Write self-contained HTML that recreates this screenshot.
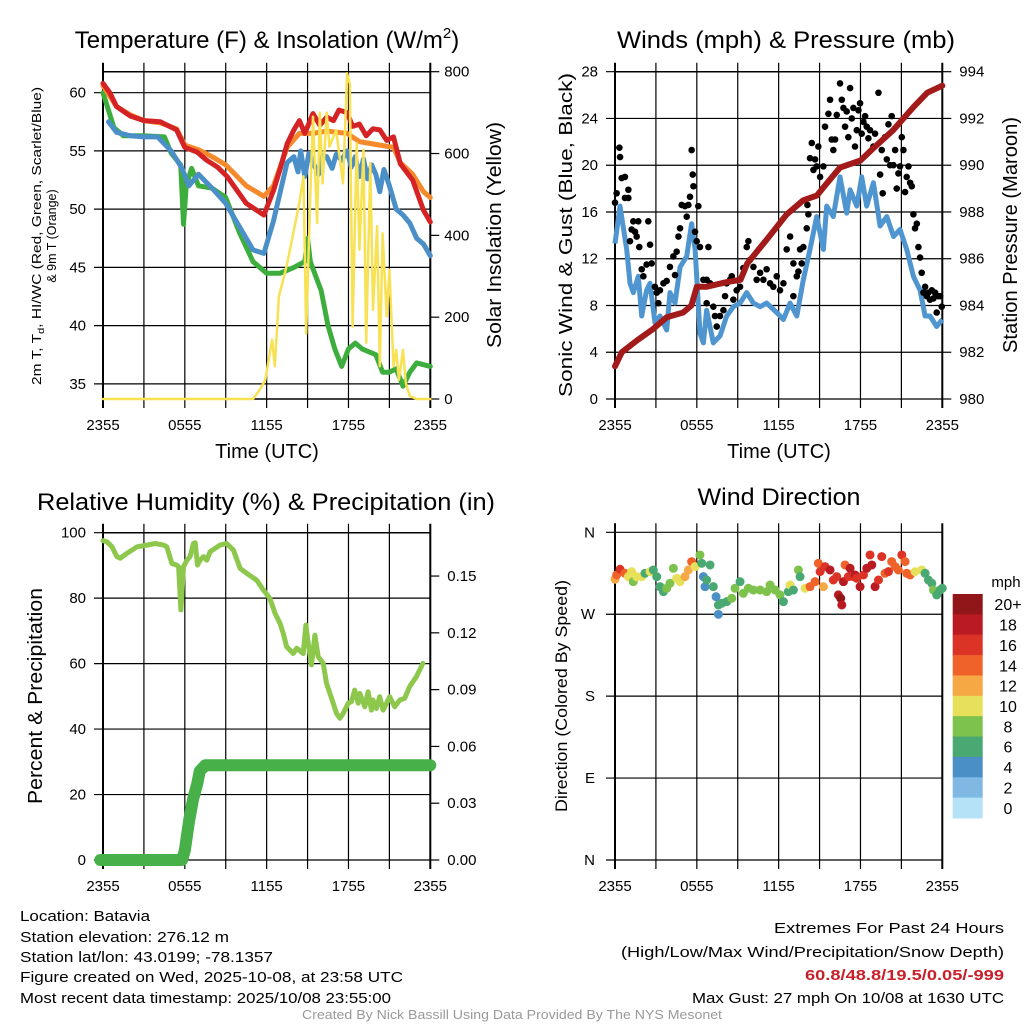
<!DOCTYPE html>
<html><head><meta charset="utf-8"><style>
html,body{margin:0;padding:0;background:#fff;width:1024px;height:1024px;overflow:hidden}
svg{display:block;font-family:"Liberation Sans",Arial,sans-serif}
</style></head><body>
<svg id="fig" width="1024" height="1024" viewBox="0 0 1024 1024" xmlns="http://www.w3.org/2000/svg">
<rect width="1024" height="1024" fill="#fff"/>
<g id="g1"></g>
<g id="g2"></g>
<g id="g3"></g>
<g id="g4"></g>

<text x="267" y="48" font-size="24" text-anchor="middle">Temperature (F) &amp; Insolation (W/m<tspan font-size="15" dy="-10">2</tspan><tspan dy="10">)</tspan></text>
<text x="786" y="48" font-size="24" text-anchor="middle" textLength="338" lengthAdjust="spacingAndGlyphs">Winds (mph) &amp; Pressure (mb)</text>
<text x="266" y="510" font-size="24" text-anchor="middle" textLength="458" lengthAdjust="spacingAndGlyphs">Relative Humidity (%) &amp; Precipitation (in)</text>
<text x="779" y="505" font-size="24" text-anchor="middle" textLength="163" lengthAdjust="spacingAndGlyphs">Wind Direction</text>

<text transform="translate(41,236) rotate(-90)" font-size="12.5" text-anchor="middle" textLength="298" lengthAdjust="spacingAndGlyphs">2m T, T<tspan font-size="9" dy="3">d</tspan><tspan dy="-3">, HI/WC (Red, Green, Scarlet/Blue)</tspan></text>
<text transform="translate(56,236) rotate(-90)" font-size="12.5" text-anchor="middle">&amp; 9m T (Orange)</text>
<text transform="translate(501,235) rotate(-90)" font-size="20" text-anchor="middle" textLength="226" lengthAdjust="spacingAndGlyphs">Solar Insolation (Yellow)</text>
<text x="267" y="458" font-size="20" text-anchor="middle">Time (UTC)</text>
<text transform="translate(572,235) rotate(-90)" font-size="18" text-anchor="middle" textLength="324" lengthAdjust="spacingAndGlyphs">Sonic Wind &amp; Gust (Blue, Black)</text>
<text transform="translate(1017,235) rotate(-90)" font-size="20" text-anchor="middle" textLength="236" lengthAdjust="spacingAndGlyphs">Station Pressure (Maroon)</text>
<text x="779" y="458" font-size="20" text-anchor="middle">Time (UTC)</text>
<text transform="translate(42,696) rotate(-90)" font-size="20" text-anchor="middle" textLength="216" lengthAdjust="spacingAndGlyphs">Percent &amp; Precipitation</text>
<text transform="translate(567,696) rotate(-90)" font-size="17" text-anchor="middle" textLength="232" lengthAdjust="spacingAndGlyphs">Direction (Colored By Speed)</text>

<g font-size="15">
<text x="20" y="921" textLength="130" lengthAdjust="spacingAndGlyphs">Location: Batavia</text>
<text x="20" y="942" textLength="209" lengthAdjust="spacingAndGlyphs">Station elevation: 276.12 m</text>
<text x="20" y="962" textLength="253" lengthAdjust="spacingAndGlyphs">Station lat/lon: 43.0199; -78.1357</text>
<text x="20" y="982" textLength="383" lengthAdjust="spacingAndGlyphs">Figure created on Wed, 2025-10-08, at 23:58 UTC</text>
<text x="20" y="1003" textLength="371" lengthAdjust="spacingAndGlyphs">Most recent data timestamp: 2025/10/08 23:55:00</text>
</g>
<g font-size="15" text-anchor="end">
<text x="1004" y="933" textLength="230" lengthAdjust="spacingAndGlyphs">Extremes For Past 24 Hours</text>
<text x="1004" y="957" textLength="383" lengthAdjust="spacingAndGlyphs">(High/Low/Max Wind/Precipitation/Snow Depth)</text>
<text x="1004" y="980" fill="#c8202a" font-weight="bold" textLength="199" lengthAdjust="spacingAndGlyphs">60.8/48.8/19.5/0.05/-999</text>
<text x="1004" y="1003" textLength="312" lengthAdjust="spacingAndGlyphs">Max Gust: 27 mph On 10/08 at 1630 UTC</text>
</g>
<text x="512" y="1019" font-size="12.5" fill="#999" text-anchor="middle" textLength="420" lengthAdjust="spacingAndGlyphs">Created By Nick Bassill Using Data Provided By The NYS Mesonet</text>
</svg>
<script>
// ---------- data ----------
const xTickLabels = ["2355","0555","1155","1755","2355"];
const tempTicks = [35,40,45,50,55,60];
const solarTicks = [0,200,400,600,800];
const windTicks = [0,4,8,12,16,20,24,28];
const presTicks = [980,982,984,986,988,990,992,994];
const rhTicks = [0,20,40,60,80,100];
const precipTicks = ["0.00","0.03","0.06","0.09","0.12","0.15"];
const dirLabels = ["N","E","S","W","N"];
const speedBinLabels = ["0","2","4","6","8","10","12","14","16","18","20+"];
const speedBinColors = ["#b5e2f7","#7fb9e3","#4a8fc6","#4aa872","#7dc24c","#e7e05a","#f6a845","#ef6229","#dc3327","#ba1b22","#91161a"];

const redHours = [0,0.5,1,2,3,4.2,5.4,6,6.9,7.6,8.4,9.1,10.5,11.8,12.5,13,13.5,14,14.4,14.8,15.4,15.9,16.4,16.9,17.3,17.9,18.3,18.8,19.3,19.8,20.3,20.8,21.3,21.8,22.7,23.5,24];
const redTemp  = [60.8,60,58.8,58,57.6,57.5,56.8,55.3,54.9,54.2,53.6,52.8,50.5,49.5,51.6,53.5,55.6,56.8,57.6,56.5,58.2,57.2,57.9,57.6,58.5,58.3,57.1,57.3,56.3,56.9,56.8,55.9,56.2,53.9,52.5,49.9,48.9];
const orangeHours = [0,1,2,3,4.2,5.4,6,7,8,9,10.5,11.8,12.5,13.5,14.4,15.4,16.4,17.9,18.8,20.3,21.3,21.8,22.7,23.5,24];
const orangeTemp  = [60.6,58.8,58.1,57.6,57.4,56.9,55.5,55.1,54.5,53.8,52,51.1,52,55.3,56.5,56.5,56.7,56.5,55.8,55.5,55.3,54,53,51.5,51];
const blueHours = [0.4,1,2,3,4,5,5.8,6.3,7,8,9,10,11,11.8,12.5,13,13.5,14,14.3,14.5,14.8,15.1,15.4,15.8,16.1,16.4,16.8,17.1,17.5,17.9,18.2,18.5,18.8,19.1,19.4,19.7,20,20.3,20.6,21,21.5,22,22.5,23,23.5,24];
const blueTemp  = [57.5,56.6,56.3,56.2,56.2,55,53.5,52,53,51.8,50.5,48.5,46.5,46.2,49,51.5,54,54.5,53.2,55,52.8,54.8,54,53,54.6,54.5,53.5,54.7,54.2,55,53.6,54.5,52.8,54.3,52.6,53.8,53,51.5,53.4,52,50,49.5,48.8,47.5,47,46];
const greenHours = [0,0.8,1.5,3,4.5,5,5.7,5.9,6.1,6.5,7,8,9,10,11,12,13,14,14.8,15,15.2,16,16.5,17,17.5,18,18.5,19,20,20.5,21,21.5,22,22.5,23,24];
const greenTemp  = [60,57,56.3,56.3,56.2,54.8,53.8,48.7,52,53.5,52,51.8,51,48,45.5,44.5,44.5,45,45.5,47.5,45.5,43,40,38,36.5,38,38.5,38,37.5,36,36,36.3,34.8,36,36.8,36.5];
const solarHours = [0,10.5,11,11.5,11.9,12.4,12.6,12.9,13.5,14.4,14.7,14.9,15.2,15.4,15.7,15.9,16.1,16.4,16.6,17.1,17.6,17.9,18.1,18.3,18.6,18.8,19.1,19.3,19.6,19.8,20.1,20.3,20.5,20.8,21.0,21.3,21.5,21.7,22.0,22.2,22.5,23,24];
const solarWm2   = [0,0,0,23,47,145,80,250,330,480,544,160,500,690,430,700,527,700,617,657,527,796,770,177,625,365,609,137,576,218,422,80,405,202,316,80,120,47,120,39,7,0,0];

const presHours = [0,0.5,1.6,2.8,3.8,5,5.6,6,6.7,8.2,9.2,9.7,11.1,12.6,13.8,14.8,15.5,16.5,18,18.9,20.4,21.9,22.9,24];
const presMb    = [981.4,982,982.5,983,983.5,983.7,984,984.8,984.8,985,985.1,985.8,986.8,987.9,988.5,988.7,989.2,989.9,990.2,990.7,991.5,992.5,993.1,993.4];
const windHours = [0,0.37,0.86,1.1,1.34,1.71,1.96,2.32,2.57,2.93,3.3,3.79,4.03,4.4,4.77,5.26,5.62,5.87,6.23,6.48,6.72,7.21,7.7,8.19,8.68,9.17,9.66,10.15,10.64,11.12,11.86,12.35,12.84,13.33,13.81,14.3,14.79,15.28,15.52,16.01,16.5,16.99,17.24,17.73,18.09,18.46,18.95,19.44,19.93,20.42,20.9,21.39,21.88,22.37,22.74,23.1,23.59,24];
const windMph   = [13.3,16.5,12.8,9.9,9.1,10.5,7.1,9.3,9.9,6.5,7.1,5.9,9.1,8.2,11.3,12.2,15,12.8,5.6,4.8,7.6,4.8,5.4,7.1,7.9,8.2,9.1,8.2,7.9,8.2,7.4,6.8,8.2,7.1,10.2,12.8,15.6,12.8,16.5,15.6,19,15.9,17.9,16.5,19,16.5,18.5,14.8,15.6,13.9,14.5,12.8,10.5,9.3,7.1,7.1,6.2,6.8];
const gustHours = [0,0.12,0.32,0.37,0.49,0.73,0.73,0.98,0.98,1.1,1.22,1.34,1.47,1.59,1.71,1.78,1.96,2.08,2.32,2.44,2.57,2.69,2.93,3.06,3.18,3.3,3.55,3.79,4.03,4.28,4.4,4.52,4.65,4.77,4.89,5.13,5.26,5.38,5.5,5.62,5.7,5.75,5.87,5.99,6.11,6.23,6.85,6.48,6.72,6.97,6.72,7.21,7.33,7.46,7.7,7.95,8.07,8.19,8.44,8.56,8.68,8.92,9.17,9.41,9.66,9.78,9.9,10.15,10.39,10.64,10.88,11.12,11.37,11.61,11.86,12.1,12.35,12.59,12.84,13.08,13.08,13.33,13.45,13.57,13.69,13.81,14.06,14.11,14.18,14.3,14.43,14.55,14.67,14.79,14.91,15.04,15.28,15.4,15.65,15.77,15.89,16.01,16.14,16.26,16.5,16.63,16.75,16.87,16.99,17.11,17.24,17.36,17.48,17.6,17.73,17.85,17.97,18.09,18.22,18.34,18.46,18.58,18.7,18.95,19.07,19.32,19.44,19.56,19.63,19.8,19.93,20.05,20.17,20.29,20.42,20.54,20.66,20.78,20.9,21.03,21.15,21.27,21.39,21.52,21.64,21.76,21.88,22.0,22.13,22.25,22.37,22.49,22.62,22.74,22.86,22.98,23.1,23.23,23.35,23.47,23.59,23.72,23.84,23.96];
const gustMph   = [16.8,17.6,21.5,20.7,18.9,19.0,17.2,17.9,17.2,13.5,14.5,15.2,14.3,13.9,15.2,13.0,11.1,10.5,11.5,15.2,13.2,11.6,9.6,9.1,8.2,9.3,9.9,10.1,11.3,12.2,10.6,12.6,13.9,14.6,16.6,16.5,15.6,16.6,17.3,21.3,19.2,18.2,14.3,13.5,16.5,13.0,13.0,10.2,10.2,9.9,8.2,7.9,7.1,6.2,7.1,7.6,8.8,9.9,10.2,10.5,8.5,9.3,9.6,11.2,13.0,13.5,11.9,11.3,10.2,10.8,10.2,11.1,9.9,9.6,10.5,9.3,9.9,12.8,13.9,11.6,8.8,10.5,10.9,12.8,11.6,13.0,14.6,16.6,15.8,20.6,21.9,19.6,20.5,19.9,21.6,19.0,19.9,23.3,24.4,25.6,22.2,21.3,22.2,24.3,27.0,25.6,24.9,23.3,24.6,22.4,26.6,24.0,24.9,21.6,23.0,24.7,25.3,22.7,23.7,24.2,23.3,22.3,23.0,21.6,22.7,26.2,19.2,21.3,17.6,22.4,20.5,23.5,20.0,24.2,20.0,21.3,18.0,19.3,19.9,22.4,21.3,17.7,19.0,19.9,18.5,18.2,15.8,14.6,15.0,13.0,12.1,10.8,9.1,9.6,8.8,9.1,8.5,9.3,8.6,9.1,7.4,8.8,8.8,7.9];

const rhHours = [0,0.3,0.66,1.02,1.27,1.76,2.49,3.22,3.83,4.44,4.68,5.05,5.41,5.54,5.71,5.9,6.15,6.39,6.63,6.76,6.93,7.12,7.37,7.61,7.85,8.59,9.07,9.56,10.05,10.54,11.27,11.76,12.24,12.61,12.98,13.22,13.46,13.95,14.2,14.68,14.88,15.05,15.29,15.54,15.78,16.15,16.39,16.88,17.12,17.37,17.61,17.98,18.22,18.46,18.71,18.83,19.2,19.44,19.68,19.8,20.05,20.29,20.54,21.02,21.39,21.76,22.12,22.49,22.98,23.46];
const rhPct   = [97.6,97.2,95.7,92.7,92.2,93.7,95.7,96.2,96.7,96.2,95.7,90.6,90.1,89.6,76.4,89.6,91.6,92.7,96.7,96.9,90.1,91.6,92.7,91.6,94.2,96.2,96.7,94.7,89.1,87.6,85.5,82.5,79.9,75.4,72.3,69.2,65.2,63.1,64.7,63.1,71.8,66.2,59.6,68.7,62.1,60.1,54,47.9,44.8,43.3,44.8,47.9,48.4,51.9,47.9,50.9,46.8,51.4,45.8,48.9,46.3,49.9,45.8,49.9,46.8,48.9,49.4,53,56,60.1];
const precipHours = [-0.2,5.8,6.0,6.3,6.6,6.9,7.1,7.5,24];
const precipIn    = [0,0,0.005,0.02,0.032,0.04,0.047,0.05,0.05];

const dirHours = [0,0.12,0.37,0.73,0.98,1.22,1.34,1.59,1.96,2.2,2.57,2.81,3.06,3.3,3.55,3.79,4.03,4.28,4.52,4.77,5.13,5.38,5.62,5.87,6.23,6.36,6.48,6.6,6.72,6.97,7.21,7.41,7.58,7.58,7.82,8.19,8.56,8.8,9.17,9.41,9.78,10.15,10.64,11.12,11.37,11.74,12.1,12.35,12.71,12.84,13.08,13.45,13.57,13.94,14.3,14.67,14.91,15.04,15.28,15.4,15.77,16.01,16.26,16.38,16.55,16.63,16.75,16.87,17.11,17.24,17.48,17.6,17.73,17.97,18.22,18.46,18.7,18.83,19.07,19.32,19.56,19.8,20.05,20.29,20.54,20.78,21.03,21.27,21.39,21.64,22.0,22.49,22.74,22.98,23.23,23.35,23.59,23.84,24.0];
const dirDeg   = [308.4,313.1,319.4,315.0,311.3,316.8,305.8,311.3,311.3,315.0,316.8,318.6,311.3,300.3,294.8,298.5,304.0,320.5,309.5,305.8,311.3,318.6,327.8,322.3,335.1,325.9,311.3,300.3,307.6,324.1,300.3,289.3,280.2,269.9,282.0,283.8,287.5,298.5,305.8,293.0,298.5,296.6,296.6,294.8,302.1,296.6,291.2,283.8,294.8,302.1,296.6,318.6,311.3,298.5,300.3,305.8,325.9,316.8,300.3,322.3,318.6,307.6,311.3,291.2,287.5,280.2,305.8,324.1,311.3,320.5,311.3,313.1,309.5,300.3,313.1,320.5,335.1,324.1,300.3,307.6,333.3,315.0,316.8,327.8,322.3,318.6,335.1,327.8,315.0,313.1,316.8,318.6,315.0,307.6,304.0,296.6,291.2,296.6,298.5];
const dirSpeed = [12,14,16,14,10,10,8,10,10,6,10,6,6,6,6,8,8,8,10,10,12,12,14,10,8,6,4,4,6,6,6,4,6,4,6,6,8,8,6,8,8,8,8,8,8,8,8,6,6,10,6,8,6,10,14,14,14,16,12,16,18,16,16,18,20,18,18,14,16,18,16,18,16,18,16,18,16,18,18,16,16,14,16,14,14,14,16,14,14,14,10,10,6,6,6,8,6,6,6];

// ---------- helpers ----------
const NS = "http://www.w3.org/2000/svg";
function mk(parent, tag, attrs, name){
  const el = document.createElementNS(NS, tag);
  for (const k in attrs) el.setAttribute(k, attrs[k]);
  
  
  parent.appendChild(el);
  return el;
}
function txt(parent, x, y, s, anchor, name, size){
  const t = mk(parent, 'text', {x:x, y:y, 'font-size': size||15, 'text-anchor': anchor}, name);
  t.textContent = s;
  return t;
}
function panelFrame(g, X0, X1, Y0, Y1, key){
  const W = X1-X0;
  // vertical grid every 3 hours
  for (let i=0;i<=8;i++){
    const x = X0 + W*i/8;
    mk(g,'line',{x1:x,y1:Y0-9,x2:x,y2:Y1+9,stroke:'#000','stroke-width':(i==0||i==8)?2:1.2},key+'-vgrid');
  }
  xTickLabels.forEach((s,i)=>{
    txt(g, X0 + W*i/4, Y1+31, s, 'middle', key+'-x-tick-label');
  });
}
function hgrid(g, X0, X1, y, extL, extR, key){
  mk(g,'line',{x1:X0-extL,y1:y,x2:X1+extR,y2:y,stroke:'#000','stroke-width':1.2},key+'-hgrid');
}
function pathFrom(xs, ys, fx, fy){
  let d='';
  for (let i=0;i<xs.length;i++) d += (i?'L':'M') + fx(xs[i]).toFixed(1)+','+fy(ys[i]).toFixed(1);
  return d;
}

// ---------- panel 1 ----------
(function(){
  const g = document.getElementById('g1');
  const X0=103, X1=430.3, Y0=71.7, Y1=399;
  const fx = h => X0 + (X1-X0)*h/24;
  const fT = v => Y1 - (v-33.7)*(Y1-Y0)/(61.8-33.7);
  const fS = v => Y1 - v*(Y1-Y0)/800;
  panelFrame(g,X0,X1,Y0,Y1,'temp');
  tempTicks.forEach(v=>{ hgrid(g,X0,X1,fT(v),9,0,'temp'); txt(g,X0-17,fT(v)+5,String(v),'end','temp-y-tick-label'); });
  solarTicks.forEach(v=>{ mk(g,'line',{x1:X1,y1:fS(v),x2:X1+9,y2:fS(v),stroke:'#000','stroke-width':1.2},'solar-tick'); txt(g,X1+14,fS(v)+5,String(v),'start','solar-y-tick-label'); });
  mk(g,'line',{x1:X0,y1:Y1,x2:X1,y2:Y1,stroke:'#000','stroke-width':1.5},'temp-x-axis');
  mk(g,'line',{x1:X0,y1:Y0,x2:X1,y2:Y0,stroke:'#000','stroke-width':1.5},'temp-top-border');
  const sty = (c,w)=>({fill:'none',stroke:c,'stroke-width':w,'stroke-linejoin':'round','stroke-linecap':'round'});
  mk(g,'path',Object.assign({d:pathFrom(greenHours,greenTemp,fx,fT)},sty('#3dae3d',5)),'dewpoint-line');
  mk(g,'path',Object.assign({d:pathFrom(orangeHours,orangeTemp,fx,fT)},sty('#f58a2c',5)),'temp-9m-line');
  mk(g,'path',Object.assign({d:pathFrom(redHours,redTemp,fx,fT)},sty('#d52224',5)),'temp-2m-line');
  mk(g,'path',Object.assign({d:pathFrom(blueHours,blueTemp,fx,fT)},sty('#4b8fc9',5)),'heat-index-line');
  mk(g,'path',Object.assign({d:pathFrom(solarHours,solarWm2,fx,fS)},sty('#f8e153',2.5)),'solar-line');
})();

// ---------- panel 2 ----------
(function(){
  const g = document.getElementById('g2');
  const X0=615, X1=942.3, Y0=71.7, Y1=399;
  const fx = h => X0 + (X1-X0)*h/24;
  const fW = v => Y1 - v*(Y1-Y0)/28;
  const fP = v => Y1 - (v-980)*(Y1-Y0)/14;
  panelFrame(g,X0,X1,Y0,Y1,'wind');
  windTicks.forEach(v=>{ hgrid(g,X0,X1,fW(v),9,0,'wind'); txt(g,X0-17,fW(v)+5,String(v),'end','wind-y-tick-label'); });
  presTicks.forEach(v=>{ mk(g,'line',{x1:X1,y1:fP(v),x2:X1+9,y2:fP(v),stroke:'#000','stroke-width':1.2},'pressure-tick'); txt(g,X1+17,fP(v)+5,String(v),'start','pressure-y-tick-label'); });
  mk(g,'line',{x1:X0,y1:Y0,x2:X1,y2:Y0,stroke:'#000','stroke-width':1.5},'wind-top-border');
  mk(g,'path',{d:pathFrom(windHours,windMph,fx,fW),fill:'none',stroke:'#4f95d0','stroke-width':5,'stroke-linejoin':'round'},'sonic-wind-line');
  for (let i=0;i<gustHours.length;i++){
    const c = mk(g,'circle',{cx:fx(gustHours[i]),cy:fW(gustMph[i]),r:3.3,fill:'#000'},'gust-dot');
  }
  mk(g,'path',{d:pathFrom(presHours,presMb,fx,fP),fill:'none',stroke:'#a21a1a','stroke-width':6,'stroke-linejoin':'round','stroke-linecap':'round'},'pressure-line');
})();

// ---------- panel 3 ----------
(function(){
  const g = document.getElementById('g3');
  const X0=103, X1=430.3, Y0=532.7, Y1=860;
  const fx = h => X0 + (X1-X0)*h/24;
  const fR = v => Y1 - v*(Y1-Y0)/100;
  const fPr = v => Y1 - v*(Y1-Y0)/0.1729;
  panelFrame(g,X0,X1,Y0,Y1,'rh');
  rhTicks.forEach(v=>{ hgrid(g,X0,X1,fR(v),9,0,'rh'); txt(g,X0-17,fR(v)+5,String(v),'end','rh-y-tick-label'); });
  precipTicks.forEach(s=>{ const v=parseFloat(s); mk(g,'line',{x1:X1,y1:fPr(v),x2:X1+9,y2:fPr(v),stroke:'#000','stroke-width':1.2},'precip-tick'); txt(g,X1+17,fPr(v)+5,s,'start','precip-y-tick-label'); });
  mk(g,'line',{x1:X0,y1:Y0,x2:X1,y2:Y0,stroke:'#000','stroke-width':1.5},'rh-top-border');
  mk(g,'path',{d:pathFrom(rhHours,rhPct,fx,fR),fill:'none',stroke:'#8dc84d','stroke-width':5,'stroke-linejoin':'round','stroke-linecap':'round'},'humidity-line');
  mk(g,'path',{d:pathFrom(precipHours,precipIn,fx,fPr),fill:'none',stroke:'#47b049','stroke-width':12,'stroke-linejoin':'round','stroke-linecap':'round'},'precip-line');
})();

// ---------- panel 4 ----------
(function(){
  const g = document.getElementById('g4');
  const X0=615, X1=942.3, Y0=532.3, Y1=860;
  const fx = h => X0 + (X1-X0)*h/24;
  const fD = v => Y1 - v*(Y1-Y0)/360;
  panelFrame(g,X0,X1,Y0,Y1,'dir');
  dirLabels.forEach((s,i)=>{ const y=fD(i*90); hgrid(g,X0,X1,y,9,0,'dir'); txt(g,X0-20,y+5,s,'end','dir-y-tick-label'); });
  for (let i=0;i<dirHours.length;i++){
    const bin = Math.min(10, Math.floor(dirSpeed[i]/2));
    mk(g,'circle',{cx:fx(dirHours[i]),cy:fD(dirDeg[i]),r:4.5,fill:speedBinColors[bin]},'direction-dot');
  }
  // colorbar
  const cbTop=594, cbBot=818, n=speedBinLabels.length, bh=(cbBot-cbTop)/n;
  txt(g,1006,587,'mph','middle','colorbar-title');
  for (let i=0;i<n;i++){
    const k = n-1-i;
    mk(g,'rect',{x:952.7,y:cbTop+i*bh,width:30,height:bh+0.5,fill:speedBinColors[k]},'colorbar-box');
    txt(g,1008,cbTop+i*bh+bh/2+6,speedBinLabels[k],'middle','colorbar-label',16);
  }
})();
</script>
</body></html>
